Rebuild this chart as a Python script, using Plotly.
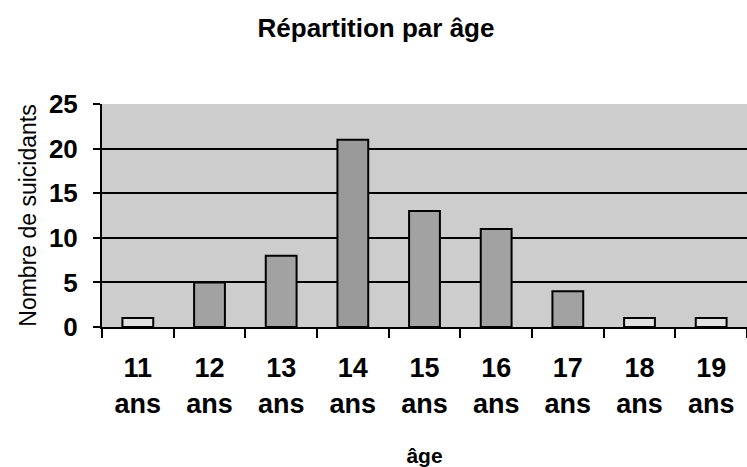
import plotly.graph_objects as go

ages = ["11", "12", "13", "14", "15", "16", "17", "18", "19"]
tick_labels = ["11<br>ans", "12<br>ans", "13<br>ans", "14<br>ans", "15<br>ans",
               "16<br>ans", "17<br>ans", "18<br>ans", "19<br>ans"]
counts = [1, 5, 8, 21, 13, 11, 4, 1, 1]
bar_colors = ["#e2e2e2", "#a2a2a2", "#a2a2a2", "#9a9a9a", "#a2a2a2",
              "#a2a2a2", "#a2a2a2", "#e2e2e2", "#e2e2e2"]

FONT = "Liberation Sans, Arial, sans-serif"

fig = go.Figure(
    go.Bar(
        x=ages,
        y=counts,
        marker=dict(color=bar_colors, line=dict(color="black", width=2)),
        hoverinfo="skip",
    )
)

fig.update_layout(
    width=747,
    height=467,
    paper_bgcolor="white",
    plot_bgcolor="#cdcdcd",
    margin=dict(l=102, r=0, t=104, b=140, autoexpand=False),
    bargap=0.57,
    showlegend=False,
    font=dict(family=FONT, color="black"),
    title=dict(
        text="<b>Répartition par âge</b>",
        font=dict(size=26, family=FONT, color="black"),
        x=376 / 747, xref="container", xanchor="center",
        y=1 - 28 / 467, yref="container", yanchor="middle",
    ),
)

fig.update_xaxes(
    type="category",
    tickvals=ages,
    ticktext=[f"<b>{t}</b>" for t in tick_labels],
    tickfont=dict(size=27, family=FONT, color="black"),
    showline=True, linecolor="black", linewidth=2,
    ticks="outside", ticklen=9, tickwidth=2, tickcolor="black",
    tickson="boundaries",
    showgrid=False,
    automargin=False,
    ticklabelstandoff=16,
    title=dict(text="<b>âge</b>", font=dict(size=21, family=FONT, color="black"),
               standoff=31),
)

fig.update_yaxes(
    range=[0, 25],
    tickvals=[0, 5, 10, 15, 20, 25],
    ticktext=["<b>0</b>", "<b>5</b>", "<b>10</b>", "<b>15</b>", "<b>20</b>", "<b>25</b>"],
    tickfont=dict(size=26, family=FONT, color="black"),
    showline=True, linecolor="black", linewidth=2,
    ticks="outside", ticklen=7, tickwidth=2, tickcolor="black",
    showgrid=True, gridcolor="black", gridwidth=2,
    zeroline=False,
    automargin=False,
    ticklabelstandoff=10,
    title=dict(text="Nombre de suicidants", font=dict(size=23, family=FONT, color="black"),
               standoff=6),
)

fig.write_html(
    "out.html",
    config={"displayModeBar": False},
    post_script="document.body.style.margin='0px';",
)
